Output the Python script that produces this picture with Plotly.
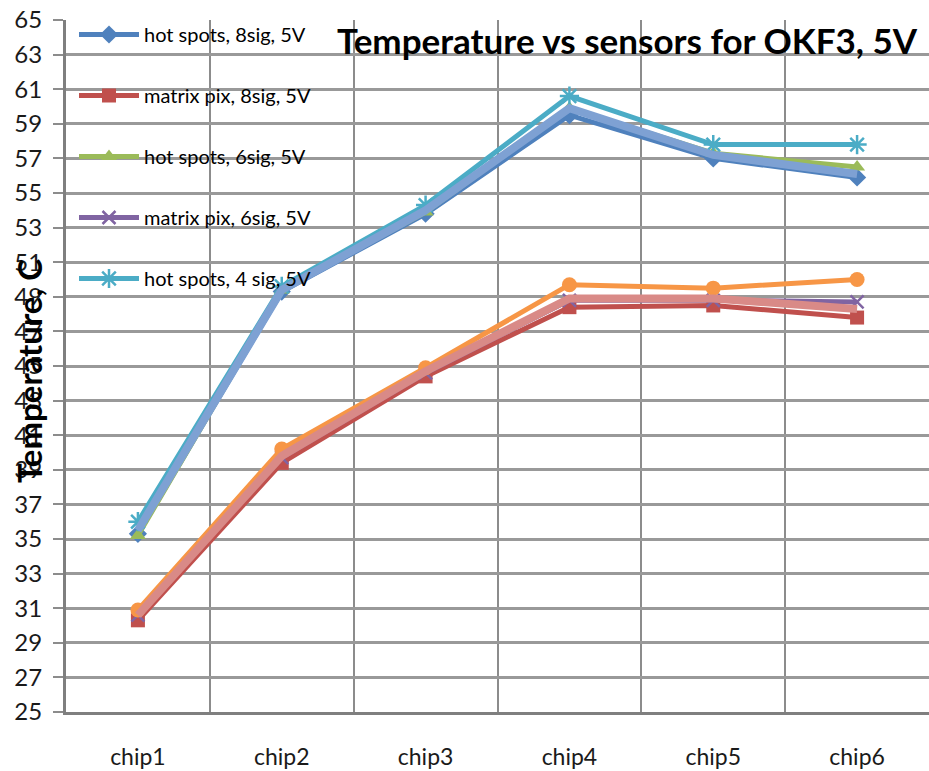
import plotly.graph_objects as go

# Chip positions along the sensor board
chips = ["chip1", "chip2", "chip3", "chip4", "chip5", "chip6"]

# Measured temperatures (deg C) per sensor configuration at 5 V
hot_spots_8sig = [35.3, 49.3, 53.8, 59.5, 57.0, 55.9]
matrix_pix_8sig = [30.3, 39.4, 44.4, 48.4, 48.5, 47.8]
hot_spots_6sig = [35.2, 49.4, 53.9, 59.9, 57.3, 56.5]
matrix_pix_6sig = [30.6, 39.7, 44.6, 48.8, 48.8, 48.7]
hot_spots_4sig = [36.0, 49.6, 54.3, 60.6, 57.8, 57.8]
matrix_pix_4sig = [30.9, 40.2, 44.9, 49.7, 49.5, 50.0]
hot_spots_2sig = [35.5, 49.4, 54.0, 59.9, 57.2, 56.1]
matrix_pix_2sig = [30.6, 39.8, 44.7, 48.9, 48.9, 48.3]

y_ticks = list(range(25, 66, 2))

FONT = "Lato"

fig = go.Figure()

def add_series(name, values, color, symbol, size, width, group, show, line_marker=False):
    marker = dict(symbol=symbol, size=size, color=color,
                  line=dict(color=color, width=2.5 if line_marker else 0))
    fig.add_trace(go.Scatter(
        x=chips, y=values, name=name,
        mode="lines+markers" if symbol else "lines",
        line=dict(color=color, width=width),
        marker=marker,
        showlegend=show,
        legendgroup=group,
    ))

add_series("hot spots, 8sig, 5V", hot_spots_8sig, "#4F81BD", "diamond", 14, 5, "g1", True)
add_series("matrix pix, 8sig, 5V", matrix_pix_8sig, "#C0504D", "square", 14, 5, "g2", True)
add_series("hot spots, 6sig, 5V", hot_spots_6sig, "#9BBB59", "triangle-up", 14, 5, "g3", True)
add_series("matrix pix, 6sig, 5V", matrix_pix_6sig, "#8064A2", "x-thin-open", 13, 5, "g4", True, True)
add_series("hot spots, 4 sig, 5V", hot_spots_4sig, "#4BACC6", "asterisk-open", 16, 5, "g5", True, True)
add_series("matrix pix, 4 sig, 5V", matrix_pix_4sig, "#F79646", "circle", 15, 5, "g6", False)
add_series("hot spots, 2 sig, 5V", hot_spots_2sig, "#7EA1D3", None, 0, 8, "g7", False)
add_series("matrix pix, 2 sig, 5V", matrix_pix_2sig, "#D98A87", None, 0, 8, "g8", False)

fig.update_layout(
    width=929, height=771,
    margin=dict(l=66, r=0, t=20, b=59),
    paper_bgcolor="white", plot_bgcolor="white",
    font=dict(family=FONT, color="black"),
    title=dict(
        text="<b>Temperature vs sensors for OKF3, 5V</b>",
        x=627 / 929, xref="container", xanchor="center",
        y=1 - 42 / 771, yref="container", yanchor="middle",
        font=dict(family=FONT, size=35, color="black"),
    ),
    legend=dict(
        x=8 / 863, y=1 + 5 / 692, xanchor="left", yanchor="top",
        bgcolor="rgba(0,0,0,0)", borderwidth=0,
        font=dict(family=FONT, size=20, color="black"),
        traceorder="grouped", tracegroupgap=32,
        itemwidth=60,
    ),
    showlegend=True,
)

fig.update_xaxes(
    type="category", categoryorder="array", categoryarray=chips,
    tickson="boundaries", ticks="", ticklen=0,
    showgrid=True, gridcolor="#8C8C8C", gridwidth=2,
    showline=True, linecolor="#7F7F7F", linewidth=3,
    tickfont=dict(family=FONT, size=23, color="#1A1A1A"),
    ticklabelstandoff=22,
    range=[-0.5, 5.5],
)

fig.update_yaxes(
    range=[25, 65], tickvals=y_ticks,
    showgrid=True, gridcolor="#999999", gridwidth=2.5,
    showline=True, linecolor="#7F7F7F", linewidth=3,
    ticks="outside", ticklen=10, tickcolor="#8C8C8C", tickwidth=2,
    tickfont=dict(family=FONT, size=24, color="#1A1A1A"),
    ticklabelstandoff=6,
    zeroline=False,
)

fig.add_annotation(
    text="<b>Temperature, C</b>", textangle=-90,
    xref="paper", yref="paper", x=0, y=0.5,
    xanchor="center", yanchor="middle", xshift=-37, yshift=-5,
    showarrow=False, font=dict(family=FONT, size=33, color="black"),
)

fig.write_html("out.html")
